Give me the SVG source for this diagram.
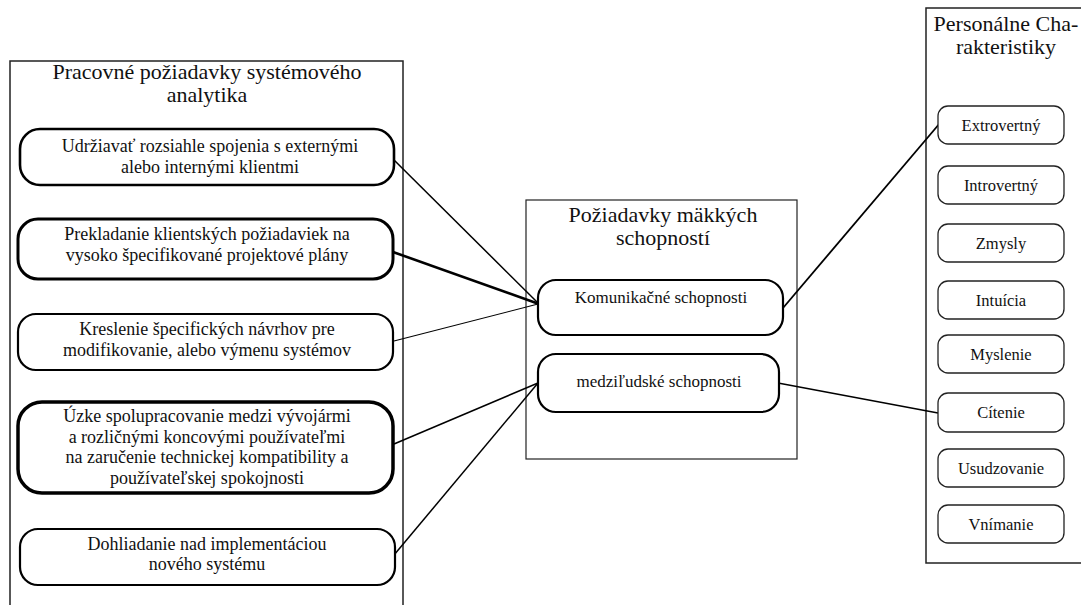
<svg xmlns="http://www.w3.org/2000/svg" width="1081" height="605" viewBox="0 0 1081 605" font-family="'Liberation Serif','Times New Roman',serif">
<style>
text{font-family:'Liberation Serif','Times New Roman',serif;fill:#111;text-anchor:middle}
.t{font-size:22px}
.b{font-size:18px}
.m{font-size:17px}
.s{font-size:16.5px}
.c{fill:#fff;stroke:#222;stroke-width:1.5}
.n{fill:#fff;stroke:#000}
.r{fill:#fff;stroke:#222;stroke-width:1.3}
.e{stroke:#000;fill:none}
</style>
<rect width="1081" height="605" fill="#fff"/>
<g id="left-container">
<rect class="c" x="10" y="61" width="393" height="560"/>
<text class="t" x="207" y="79">Pracovné požiadavky systémového</text>
<text class="t" x="207" y="102">analytika</text>
</g>
<g id="mid-container">
<rect class="c" x="526" y="200" width="271" height="259" style="stroke-width:1.2"/>
<text class="t" x="663" y="222">Požiadavky mäkkých</text>
<text class="t" x="663" y="245">schopností</text>
</g>
<g id="right-container">
<rect class="c" x="926" y="8" width="170" height="555"/>
<text class="t" x="1006" y="31">Personálne Cha-</text>
<text class="t" x="1006" y="54">rakteristiky</text>
</g>
<g id="connectors">
<line class="e" x1="394" y1="160" x2="539" y2="304" stroke-width="1.5"/>
<line class="e" x1="393" y1="252" x2="539" y2="304" stroke-width="2.6"/>
<line class="e" x1="394" y1="341" x2="538" y2="304" stroke-width="1.1"/>
<line class="e" x1="394" y1="444" x2="538" y2="383" stroke-width="1.6"/>
<line class="e" x1="394" y1="555" x2="538" y2="383" stroke-width="1.5"/>
<line class="e" x1="783" y1="308" x2="940" y2="123" stroke-width="1.8"/>
<line class="e" x1="778" y1="383" x2="938" y2="413" stroke-width="1.5"/>
</g>
<g id="n1">
<rect class="n" x="20" y="129" width="374" height="56" rx="20" stroke-width="2.6"/>
<text class="b" x="210" y="152">Udržiavať rozsiahle spojenia s externými</text>
<text class="b" x="210" y="173">alebo internými klientmi</text>
</g>
<g id="n2">
<rect class="n" x="18" y="219" width="375" height="60" rx="20" stroke-width="3"/>
<text class="b" x="207" y="240">Prekladanie klientských požiadaviek na</text>
<text class="b" x="207" y="261">vysoko špecifikované projektové plány</text>
</g>
<g id="n3">
<rect class="n" x="18" y="314" width="375" height="56" rx="18" stroke-width="2.2"/>
<text class="b" x="207" y="335">Kreslenie špecifických návrhov pre</text>
<text class="b" x="207" y="356">modifikovanie, alebo výmenu systémov</text>
</g>
<g id="n4">
<rect class="n" x="18" y="402" width="375" height="91" rx="24" stroke-width="3.5"/>
<text class="b" x="207" y="422">Úzke spolupracovanie medzi vývojármi</text>
<text class="b" x="207" y="443">a rozličnými koncovými používateľmi</text>
<text class="b" x="207" y="463">na zaručenie technickej kompatibility a</text>
<text class="b" x="207" y="484">používateľskej spokojnosti</text>
</g>
<g id="n5">
<rect class="n" x="20" y="529" width="375" height="56" rx="18" stroke-width="2.2"/>
<text class="b" x="207" y="550">Dohliadanie nad implementáciou</text>
<text class="b" x="207" y="570">nového systému</text>
</g>
<g id="m1">
<rect class="n" x="538" y="280" width="245" height="55" rx="18" stroke-width="2.2"/>
<text class="m" x="661" y="303">Komunikačné schopnosti</text>
</g>
<g id="m2">
<rect class="n" x="538" y="354" width="241" height="58" rx="18" stroke-width="2.2"/>
<text class="m" x="659" y="387">medziľudské schopnosti</text>
</g>
<g id="p1"><rect class="r" x="938" y="106" width="126" height="38" rx="10"/><text class="s" x="1001" y="131">Extrovertný</text></g>
<g id="p2"><rect class="r" x="938" y="166" width="126" height="38" rx="10"/><text class="s" x="1001" y="191">Introvertný</text></g>
<g id="p3"><rect class="r" x="938" y="224" width="126" height="38" rx="10"/><text class="s" x="1001" y="249">Zmysly</text></g>
<g id="p4"><rect class="r" x="938" y="281" width="126" height="38" rx="10"/><text class="s" x="1001" y="306">Intuícia</text></g>
<g id="p5"><rect class="r" x="938" y="335" width="126" height="38" rx="10"/><text class="s" x="1001" y="360">Myslenie</text></g>
<g id="p6"><rect class="r" x="938" y="393" width="126" height="39" rx="10"/><text class="s" x="1001" y="418">Cítenie</text></g>
<g id="p7"><rect class="r" x="938" y="449" width="126" height="38" rx="10"/><text class="s" x="1001" y="474">Usudzovanie</text></g>
<g id="p8"><rect class="r" x="938" y="505" width="126" height="38" rx="10"/><text class="s" x="1001" y="530">Vnímanie</text></g>
</svg>
